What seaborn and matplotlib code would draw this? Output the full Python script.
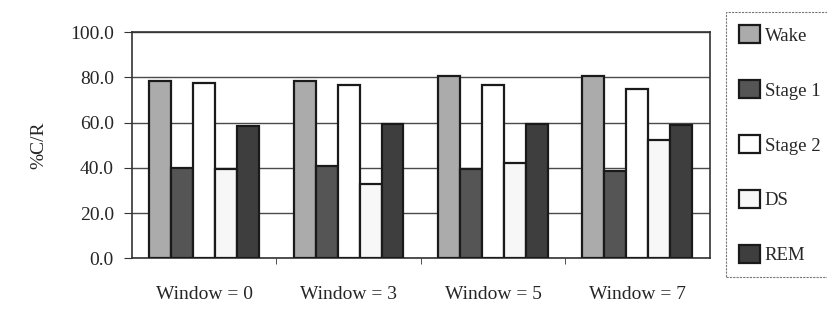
import pandas as pd
import numpy as np
import matplotlib
matplotlib.use('Agg')
import matplotlib.pyplot as plt
import seaborn as sns

# Values
windows = ['Window = 0', 'Window = 3', 'Window = 5', 'Window = 7']
stages = ['Wake', 'Stage 1', 'Stage 2', 'DS', 'REM']
wake = [78.4, 78.3, 80.8, 80.7]
stage1 = [39.8, 40.8, 39.5, 38.6]
stage2 = [77.4, 76.5, 76.5, 74.8]
ds = [39.4, 32.9, 42.3, 52.3]
rem = [58.7, 59.4, 59.3, 59.0]
y_ticks = [0, 20, 40, 60, 80, 100]

stage_colors = ['#ababab', '#555555', '#ffffff', '#f7f7f7', '#3e3e3e']

series = dict(zip(stages, [wake, stage1, stage2, ds, rem]))
rows = []
for st in stages:
    for w, v in zip(windows, series[st]):
        rows.append({'window': w, 'stage': st, 'value': v})
df = pd.DataFrame(rows)

sns.set_style('white')
plt.rcParams['font.family'] = ['Liberation Serif', 'DejaVu Serif']

fig = plt.figure(figsize=(8.27, 3.26), dpi=100)
ax = fig.add_axes([0.1596, 0.2077, 0.6984, 0.6933])

sns.barplot(data=df, x='window', y='value', hue='stage', order=windows,
            hue_order=stages, palette=stage_colors, width=0.76, gap=0,
            edgecolor='#1a1a1a', linewidth=1.6, saturation=1, ax=ax, zorder=3)

handles, labels = ax.get_legend_handles_labels()
ax.get_legend().remove()

ax.set_ylim(0, 100)
ax.set_xlim(-0.5, 3.5)
ax.set_yticks(y_ticks)
ax.set_yticklabels([f'{t:.1f}' for t in y_ticks])
ax.yaxis.grid(True, color='#4a4a4a', linewidth=1.0, zorder=0)
ax.set_axisbelow(True)

ax.set_xlabel('')
ax.set_ylabel('%C/R', fontsize=14, labelpad=16)

ax.tick_params(axis='x', which='major', length=0, pad=20, labelsize=14)
ax.set_xticks([0.5, 1.5, 2.5], minor=True)
ax.tick_params(axis='x', which='minor', length=4, direction='out',
               color='#333333', bottom=True)
ax.tick_params(axis='y', length=6, direction='out', pad=7, labelsize=14,
               color='#333333', left=True)

for side in ['left', 'bottom', 'top', 'right']:
    ax.spines[side].set_visible(True)
    ax.spines[side].set_color('#333333')
    ax.spines[side].set_linewidth(1.2)

leg = fig.legend(handles, labels, loc='upper left',
                 bbox_to_anchor=(0.878, 0.963),
                 fontsize=13.5, frameon=True, fancybox=False,
                 edgecolor='#555555', labelspacing=1.89,
                 handlelength=1.12, handleheight=1.12, handletextpad=0.25,
                 borderpad=0.7, borderaxespad=0)
leg.get_frame().set_linestyle((0, (2, 1)))
leg.get_frame().set_linewidth(0.8)

fig.savefig('out.png', dpi=100)
